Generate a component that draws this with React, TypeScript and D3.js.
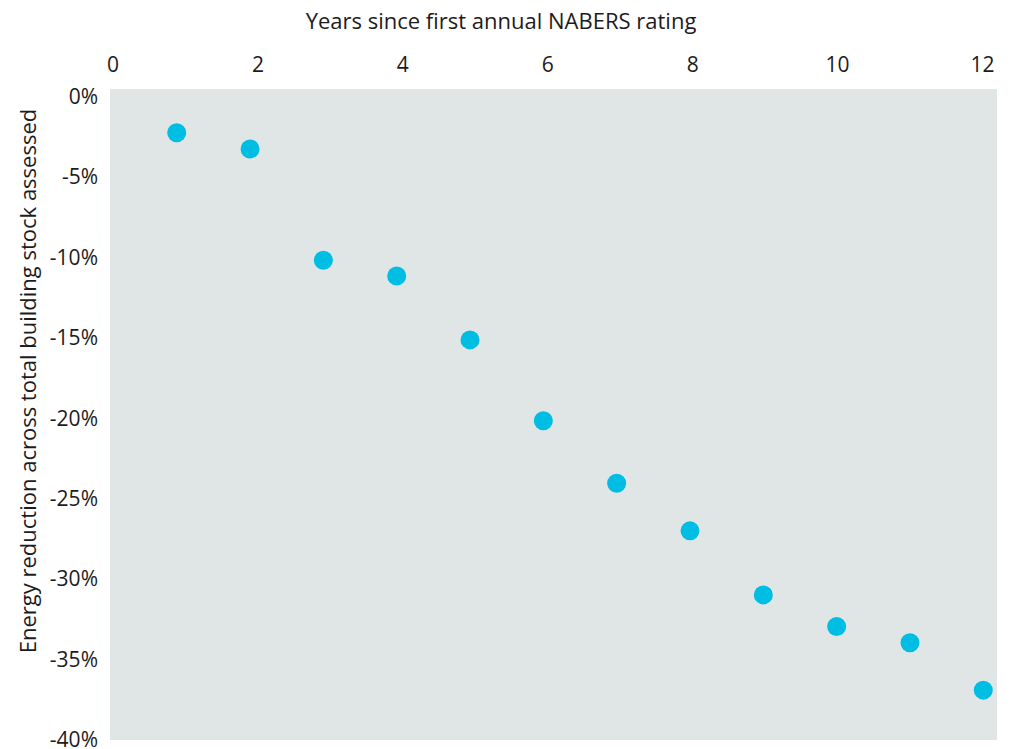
import React from "react";
import * as d3 from "d3";

const years = [1, 2, 3, 4, 5, 6, 7, 8, 9, 10, 11, 12];
const reduction = [-2.25, -3.26, -10.18, -11.16, -15.13, -20.15, -24.04, -27.0, -30.98, -32.95, -33.95, -36.9];
const xTicks = [0, 2, 4, 6, 8, 10, 12];
const yTicks = [0, -5, -10, -15, -20, -25, -30, -35, -40];
const xTitle = "Years since first annual NABERS rating";
const yTitle = "Energy reduction across total building stock assessed";

const W = 1010;
const H = 749;
const FONT = "'Open Sans', sans-serif";
const TEXT = "#1e1b1c";

export default function App() {
  const plot = { left: 110, right: 997, top: 89, bottom: 740 };
  // scale for dots
  const x = d3.scaleLinear().domain([0, 12]).range([103.4, 983.3]);
  // scale for axis labels
  const xAxis = d3.scaleLinear().domain([0, 12]).range([113, 982.5]);
  const y = d3.scaleLinear().domain([0, -40]).range([96.5, 740]);

  return (
    <svg width={W} height={H} style={{ position: "absolute", left: 0, top: 0 }}>
      <rect x={0} y={0} width={W} height={H} fill="#ffffff" />
      <rect
        x={plot.left}
        y={plot.top}
        width={plot.right - plot.left}
        height={plot.bottom - plot.top}
        fill="#e0e6e6"
      />
      <text x={501} y={29} textAnchor="middle" fontFamily={FONT} fontSize={22} fill={TEXT}>
        {xTitle}
      </text>
      {xTicks.map((t) => (
        <text key={t} x={xAxis(t)} y={72} textAnchor="middle" fontFamily={FONT} fontSize={21} fill={TEXT}>
          {t}
        </text>
      ))}
      {yTicks.map((t) => (
        <text
          key={t}
          x={98}
          y={y(t)}
          dy="0.35em"
          textAnchor="end"
          fontFamily={FONT}
          fontSize={21}
          fill={TEXT}
        >
          {`${t}%`}
        </text>
      ))}
      <text
        transform={`translate(36, 381) rotate(-90)`}
        textAnchor="middle"
        fontFamily={FONT}
        fontSize={22}
        fill={TEXT}
      >
        {yTitle}
      </text>
      {years.map((yr, i) => (
        <circle key={yr} cx={x(yr)} cy={y(reduction[i])} r={9.5} fill="#00bde3" />
      ))}
    </svg>
  );
}
